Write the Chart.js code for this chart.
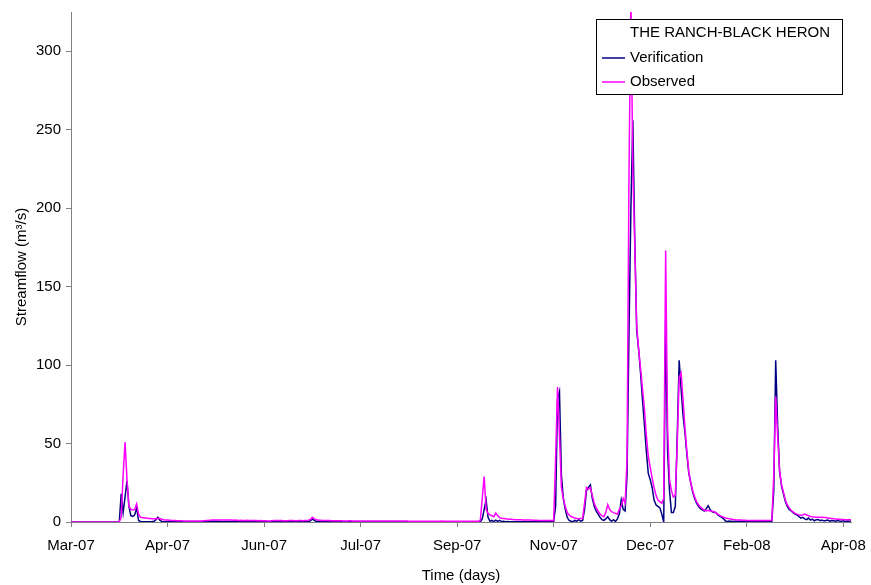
<!DOCTYPE html>
<html>
<head>
<meta charset="utf-8">
<script src="https://cdn.jsdelivr.net/npm/chart.js@4/dist/chart.umd.min.js"></script>
<style>
  html, body { margin: 0; padding: 0; background: #ffffff; }
  canvas { display: block; }
</style>
</head>
<body>
<canvas id="flow" width="871" height="585"></canvas>
<script>
// Daily streamflow (m3/s), day 0 = 1 March 2007
const stationName = 'THE RANCH-BLACK HERON';
const seriesNames = ['Verification', 'Observed'];
const tickStepDays = 50;
const tickLabels = ['Mar-07', 'Apr-07', 'Jun-07', 'Jul-07', 'Sep-07', 'Nov-07', 'Dec-07', 'Feb-08', 'Apr-08'];
const lastDay = 404;
const yMax = 325;
const yStep = 50;

const verification = [
  0,0,0,0,0,0,0,0,0,0,
  0,0,0,0,0,0,0,0,0,0,
  0,0,0,0,0,0,18,6,16,26,
  10,4,3.5,4.5,9,1,0.3,0.2,0.2,0.2,
  0.2,0.2,0.3,0.5,1.5,3,1.2,0.4,0.2,0.2,
  0.2,0.2,0.2,0.2,0.2,0.2,0.2,0.2,0.2,0.2,
  0.2,0.2,0.2,0.2,0.2,0.2,0.2,0.2,0.3,0.3,
  0.3,0.3,0.3,0.4,0.4,0.4,0.4,0.3,0.3,0.3,
  0.3,0.3,0.3,0.3,0.3,0.3,0.3,0.3,0.3,0.3,
  0.3,0.3,0.3,0.3,0.3,0.2,0.2,0.2,0.2,0.2,
  0.2,0.2,0.2,0.2,0.2,0.2,0.2,0.2,0.2,0.2,
  0.2,0.2,0.2,0.2,0.2,0.2,0.2,0.2,0.2,0.2,
  0.2,0.2,0.2,0.3,0.8,2,1,0.4,0.3,0.2,
  0.2,0.2,0.2,0.2,0.2,0.2,0.2,0.2,0.2,0.2,
  0.2,0.2,0.2,0.2,0.2,0.2,0.2,0.2,0.2,0.2,
  0.2,0.2,0.2,0.2,0.2,0.2,0.1,0.1,0.1,0.1,
  0.1,0.1,0.1,0.1,0.1,0.1,0.1,0.1,0.1,0.1,
  0.1,0.1,0.1,0.1,0.1,0.1,0.1,0.1,0.1,0.1,
  0.1,0.1,0.1,0.1,0.1,0.1,0.1,0.1,0.1,0.1,
  0.1,0.1,0.1,0.1,0.1,0.1,0.1,0.1,0.1,0.1,
  0.1,0.1,0.1,0.1,0.1,0.1,0.1,0.1,0.1,0.2,
  0.2,0.2,0.2,2,8,14,3,0.5,1,0.3,
  1.2,0.4,1,0.3,0.5,0.2,0.3,0.2,0.2,0.2,
  0.2,0.2,0.2,0.2,0.2,0.2,0.2,0.2,0.2,0.2,
  0.2,0.2,0.2,0.2,0.2,0.2,0.2,0.2,0.2,0.2,
  0.2,10,78,83,30,15,8,3,1,0.5,
  0.3,1,0.5,1.5,0.5,1,8,20,22,23.6,
  15,10,7,5,3,1.5,1,2,3.4,1.5,
  0.5,1.5,0.3,2,5,14,8,7,30,120,
  200,256,180,122,110,95,78,62,45,31,
  27,22,14,11,10,9,5,0,129,45,
  20,6,6,10,55,103,85,68,57,43,
  31,25,19,15,12,10,8.5,7.7,7,8.5,
  10.4,8,6.6,6,6,4.5,3.8,3,2,0.6,
  0.3,0.6,0.4,0.3,0.5,0.3,0.4,0.3,0.3,0.4,
  0.3,0.3,0.3,0.3,0.3,0.3,0.3,0.3,0.3,0.3,
  0.3,0.3,0.3,0.4,20,103,62,32,23,18,
  13,10,8,7,6,5,4.5,3.5,2.5,3,
  2,1.5,2.5,1.2,1.8,0.8,1.5,1.6,0.8,1.3,
  0.6,1,1.2,0.5,1,0.8,0.5,1,0.6,0.5,
  0.8,0.4,0.6,0.5,0.7
];

const observed = [
  0,0,0,0,0,0,0,0,0,0,
  0,0,0,0,0,0,0,0,0,0,
  0,0,0,0,0,0.2,3,30,51,27,
  10,8,7.7,8,11.5,5,3,2.8,2.6,2.5,
  2.3,2.2,2.1,2,2,2.2,2.3,1.8,1.5,1.3,
  1.2,1.1,1,0.9,0.9,0.8,0.8,0.8,0.7,0.7,
  0.7,0.7,0.7,0.7,0.6,0.6,0.6,0.7,0.7,0.8,
  0.9,1,1.1,1.2,1.2,1.3,1.3,1.2,1.3,1.3,
  1.2,1.3,1.2,1.2,1.1,1.2,1.1,1,1.1,1,
  1,1.1,1,0.9,1,0.9,0.9,0.8,0.9,0.8,
  0.8,0.8,0.7,0.7,0.8,0.9,0.9,1,0.9,0.9,
  0.8,0.8,0.8,0.9,1,0.9,0.8,0.8,0.9,0.9,
  0.8,0.9,1,1.2,1.6,3,2.2,1.5,1.2,1.1,
  1,1,0.9,0.9,0.9,0.8,0.8,0.8,0.8,0.8,
  0.8,0.7,0.7,0.7,0.8,0.8,0.7,0.7,0.7,0.7,
  0.7,0.7,0.7,0.7,0.7,0.7,0.6,0.6,0.6,0.6,
  0.6,0.6,0.6,0.6,0.6,0.6,0.6,0.6,0.6,0.6,
  0.6,0.6,0.6,0.6,0.6,0.5,0.5,0.5,0.5,0.5,
  0.5,0.5,0.5,0.5,0.5,0.5,0.5,0.5,0.5,0.5,
  0.5,0.5,0.6,0.5,0.5,0.5,0.5,0.4,0.5,0.5,
  0.5,0.5,0.5,0.5,0.4,0.5,0.5,0.5,0.5,0.5,
  0.5,0.5,1,15,29,8,5.5,4.5,4,3.4,
  5.7,4,2.8,2.4,2.2,2,1.9,1.8,1.7,1.6,
  1.5,1.5,1.4,1.4,1.3,1.3,1.2,1.2,1.2,1.1,
  1.1,1.1,1,1,1,1,0.9,0.9,0.9,0.9,
  0.9,40,86,55,22,15,10,6,4.5,3.5,
  3,2.5,2.2,2,2.2,2.3,12,22,21,22,
  17,12,9,7,5,4,3.4,6,11,8,
  6.6,6,5.5,5,8,10,15,12,40,220,
  335,225,176,125,110,98,85,72,55,42,
  35,28,22,17,14,13,12,15,173,60,
  27,20,16,17,50,92,95,78,60,45,
  32,25,20,16,13,11,9.5,8.5,7.5,7,
  7.5,7,6.8,6.5,6,5,4.2,3.6,3,2.6,
  2.3,2,1.8,1.6,1.4,1.3,1.2,1.2,1.1,1.1,
  1,1,1,1,0.9,0.9,0.9,0.9,0.9,0.9,
  0.9,0.9,0.9,1,30,80,55,33,24,19,
  14,11,9,7.5,6.5,5.5,5,4.5,4.3,4.5,
  5,4.5,4,3.5,3.3,3.2,3.1,3,3,3,
  2.9,2.8,2.6,2.4,2.2,2,1.9,1.8,1.7,1.6,
  1.6,1.5,1.5,1.4,1.4
];

const FONT = '"Liberation Sans", Arial, Helvetica, sans-serif';
const AXIS_GREY = '#808080';
const NAVY = '#000080';
const MAGENTA = '#ff00ff';

const toPoints = arr => arr.map((v, day) => ({ x: day, y: v }));

// Keep the plot frame fixed: the scales must not claim extra room for label overhang
const noOverhang = s => {
  s.paddingLeft = 0; s.paddingRight = 0;
  s.paddingTop = 0; s.paddingBottom = 0;
};

// Boxed legend in the upper right of the plot, with the station name as heading
const boxedLegend = {
  id: 'boxedLegend',
  afterDatasetsDraw(chart) {
    const { ctx, chartArea } = chart;
    const w = 246, h = 75;
    const x = Math.round(chartArea.right - 9 - w);
    const y = Math.round(chartArea.top + 7);
    ctx.save();
    ctx.fillStyle = '#ffffff';
    ctx.fillRect(x, y, w, h);
    ctx.strokeStyle = '#000000';
    ctx.lineWidth = 1;
    ctx.strokeRect(x + 0.5, y + 0.5, w, h);
    ctx.font = '15px ' + FONT;
    ctx.textBaseline = 'middle';
    ctx.textAlign = 'left';
    ctx.fillStyle = '#000000';
    const textX = x + 34;
    ctx.fillText(stationName, textX, y + 14);
    const rows = [
      { label: seriesNames[0], color: NAVY, cy: y + 39 },
      { label: seriesNames[1], color: MAGENTA, cy: y + 63 }
    ];
    rows.forEach(r => {
      ctx.strokeStyle = r.color;
      ctx.lineWidth = 1.5;
      ctx.beginPath();
      ctx.moveTo(x + 6, r.cy);
      ctx.lineTo(x + 29, r.cy);
      ctx.stroke();
      ctx.fillStyle = '#000000';
      ctx.fillText(r.label, textX, r.cy);
    });
    ctx.restore();
  }
};

new Chart(document.getElementById('flow'), {
  type: 'line',
  data: {
    datasets: [
      {
        label: seriesNames[1],
        data: toPoints(observed),
        borderColor: MAGENTA,
        borderWidth: 1.5,
        pointRadius: 0,
        tension: 0,
        fill: false,
        order: 0
      },
      {
        label: seriesNames[0],
        data: toPoints(verification),
        borderColor: NAVY,
        borderWidth: 1.5,
        pointRadius: 0,
        tension: 0,
        fill: false,
        order: 1
      }
    ]
  },
  options: {
    responsive: false,
    animation: false,
    devicePixelRatio: 1,
    layout: { padding: { top: 12, right: 20, left: 0, bottom: 0 } },
    plugins: {
      legend: { display: false },
      tooltip: { enabled: false },
      title: { display: false }
    },
    scales: {
      x: {
        type: 'linear',
        min: 0,
        max: lastDay,
        afterFit: s => { s.height = 63; noOverhang(s); },
        border: { color: AXIS_GREY, width: 1 },
        grid: { drawOnChartArea: false, drawTicks: true, tickLength: 5, color: AXIS_GREY },
        ticks: {
          stepSize: tickStepDays,
          includeBounds: false,
          autoSkip: false,
          maxRotation: 0,
          padding: 10,
          color: '#000000',
          font: { family: FONT, size: 15 },
          callback: v => tickLabels[Math.round(v / tickStepDays)] ?? ''
        },
        title: {
          display: true,
          text: 'Time (days)',
          color: '#000000',
          font: { family: FONT, size: 15 },
          padding: { top: 7, bottom: 0 }
        }
      },
      y: {
        min: 0,
        max: yMax,
        afterFit: s => { s.width = 71; noOverhang(s); },
        border: { color: AXIS_GREY, width: 1 },
        grid: { drawOnChartArea: false, drawTicks: true, tickLength: 5, color: AXIS_GREY },
        ticks: {
          stepSize: yStep,
          includeBounds: false,
          padding: 5,
          color: '#000000',
          font: { family: FONT, size: 15 }
        },
        title: {
          display: true,
          text: 'Streamflow (m³/s)',
          color: '#000000',
          font: { family: FONT, size: 15 },
          padding: { top: 13, bottom: 0 }
        }
      }
    }
  },
  plugins: [boxedLegend]
});
</script>
</body>
</html>
